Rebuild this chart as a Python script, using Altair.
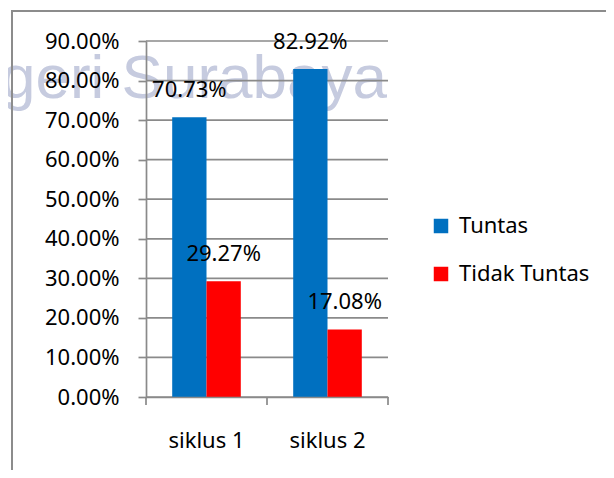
import altair as alt
import pandas as pd

# ---- data ----
categories = ["siklus 1", "siklus 2"]
series = ["Tuntas", "Tidak Tuntas"]
tuntas = [0.7073, 0.8292]
tidak_tuntas = [0.2927, 0.1708]
y_ticks = [0.0, 0.1, 0.2, 0.3, 0.4, 0.5, 0.6, 0.7, 0.8, 0.9]
colors = ["#0070C0", "#FF0000"]
watermark_text = "geri Surabaya"

rows = []
for i, c in enumerate(categories):
    rows.append({"siklus": c, "status": series[0], "nilai": tuntas[i]})
    rows.append({"siklus": c, "status": series[1], "nilai": tidak_tuntas[i]})
df = pd.DataFrame(rows)
cat_df = pd.DataFrame({"siklus": categories})
grid_df = pd.DataFrame({"nilai": y_ticks})
one = pd.DataFrame({"a": [0]})

W, H = 242, 356
FONT = "Noto Sans"
GRID = "#8a8a8a"
FRAME = "#8c8c8c"

x_axis = alt.Axis(title=None, labelAngle=0, labelFont=FONT, labelFontSize=22,
                  labelColor="black", ticks=False, tickSize=0, domain=True,
                  domainColor=GRID, domainWidth=1.7, labelPadding=50,
                  labelBaseline="alphabetic", grid=False, zindex=1,
                  labelOverlap=False)
x_scale = alt.Scale(paddingInner=0, paddingOuter=0)
x_enc = alt.X("siklus:N", sort=categories, scale=x_scale, axis=x_axis)
xoff_enc = alt.XOffset("status:N", sort=series,
                       scale=alt.Scale(paddingInner=0, paddingOuter=0.764))
y_scale = alt.Scale(domain=[0, 0.9], nice=False, zero=True)
y_axis = alt.Axis(title=None, values=y_ticks, format=".2%", grid=False,
                  tickColor=GRID, tickSize=8, tickWidth=1.7,
                  domainColor=GRID, domainWidth=1.7,
                  labelFont=FONT, labelFontSize=22, labelColor="black",
                  labelPadding=19, zindex=1, labelOverlap=False,
                  labelBound=False, labelFlush=False)
y_enc = alt.Y("nilai:Q", scale=y_scale, axis=y_axis)

watermark = alt.Chart(one).mark_text(
    text=watermark_text, align="right", baseline="alphabetic", fontSize=62,
    font="Liberation Sans", color="#c6cbdf",
).encode(x=alt.value(241), y=alt.value(57))

gridlines = alt.Chart(grid_df).mark_rule(color=GRID, strokeWidth=1.7).encode(
    y=y_enc, x=alt.value(0), x2=alt.value(W))

frame_top = alt.Chart(one).mark_rule(color=FRAME, strokeWidth=2).encode(
    x=alt.value(-134), x2=alt.value(470), y=alt.value(-30))
frame_left = alt.Chart(one).mark_rule(color=FRAME, strokeWidth=2).encode(
    x=alt.value(-134), y=alt.value(-31), y2=alt.value(H + 90))

bars = alt.Chart(df).mark_bar().encode(
    x=x_enc, xOffset=xoff_enc, y=y_enc,
    color=alt.Color("status:N", sort=series,
                    scale=alt.Scale(domain=series, range=colors),
                    legend=alt.Legend(title=None, orient="none", legendX=284,
                                      legendY=174, symbolType="square",
                                      symbolSize=210, symbolStrokeWidth=0,
                                      labelFont=FONT, labelFontSize=22,
                                      labelColor="black", rowPadding=26,
                                      labelOffset=7, padding=0)),
)

labels = alt.Chart(df).mark_text(
    dy=-27, baseline="middle", fontSize=22, font=FONT, color="black"
).encode(x=x_enc, xOffset=xoff_enc, y=y_enc,
         text=alt.Text("nilai:Q", format=".2%"))

xticks = alt.Chart(cat_df).mark_rule(color=GRID, strokeWidth=1.7).encode(
    x=alt.X("siklus:N", sort=categories, scale=x_scale, axis=x_axis,
            bandPosition=0),
    y=alt.value(H), y2=alt.value(H + 8))
xtick_end = alt.Chart(one).mark_rule(color=GRID, strokeWidth=1.7).encode(
    x=alt.value(W), y=alt.value(H), y2=alt.value(H + 8))

chart = alt.layer(
    watermark, gridlines, frame_top, frame_left, bars, labels, xticks, xtick_end
).properties(
    width=W, height=H,
    autosize=alt.AutoSizeParams(type="none"),
    padding={"left": 138, "top": 33, "right": 218, "bottom": 73},
    background="white",
).configure_view(stroke=None)

chart.save("out.html", embed_options={"renderer": "svg", "actions": False})
